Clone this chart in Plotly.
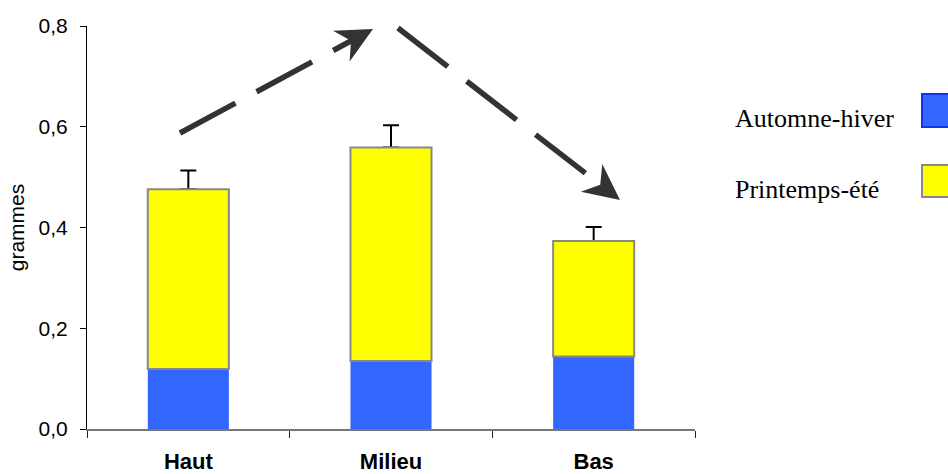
import plotly.graph_objects as go

# Data
sites = ["Haut", "Milieu", "Bas"]
automne_hiver = [0.119, 0.135, 0.144]
printemps_ete = [0.357, 0.424, 0.229]
erreur_totale = [0.037, 0.044, 0.028]
y_ticks = [0.0, 0.2, 0.4, 0.6, 0.8]

totals = [a + p for a, p in zip(automne_hiver, printemps_ete)]

BLUE = "#3366FF"
YELLOW = "#FFFF00"
OUTLINE = "#888888"
ARROW = "#333333"

W, H = 948, 474
PLOT_L, PLOT_R, PLOT_T, PLOT_B = 87, 695, 26, 429


def px(x):
    return (x - PLOT_L) / (PLOT_R - PLOT_L)


def py(y):
    return (PLOT_B - y) / (PLOT_B - PLOT_T)


fig = go.Figure()

# Carrier for the error bars (drawn first so the yellow outline hides the lower cap)
fig.add_trace(go.Bar(
    x=sites, y=totals, width=0.4,
    marker=dict(color="rgba(0,0,0,0)", line=dict(width=0)),
    error_y=dict(type="data", array=erreur_totale, arrayminus=[0] * len(sites),
                 symmetric=False, color="black", thickness=2, width=8),
    showlegend=False, hoverinfo="skip",
))
fig.add_trace(go.Bar(
    x=sites, y=automne_hiver, width=0.4, name="Automne-hiver",
    marker=dict(color=BLUE, line=dict(width=0)),
    showlegend=False,
))
fig.add_trace(go.Bar(
    x=sites, y=printemps_ete, base=automne_hiver, width=0.4, name="Printemps-été",
    marker=dict(color=YELLOW, line=dict(color=OUTLINE, width=2)),
    showlegend=False,
))

shapes = []
annotations = []

# Dashed trend arrows (pixel geometry converted to paper space)
arrows = [((180, 133), (373, 29)), ((398, 28), (620, 200))]
HEAD_LEN, HEAD_HALF, NOTCH = 36, 17.5, 25
for (x0, y0), (x1, y1) in arrows:
    dx, dy = x1 - x0, y1 - y0
    n = (dx * dx + dy * dy) ** 0.5
    ux, uy = dx / n, dy / n
    vx, vy = -uy, ux
    nx, ny = x1 - ux * NOTCH, y1 - uy * NOTCH
    shapes.append(dict(
        type="line", xref="paper", yref="paper",
        x0=px(x0), y0=py(y0), x1=px(nx + ux * 4), y1=py(ny + uy * 4),
        line=dict(color=ARROW, width=5.5, dash="63px,24px"),
    ))
    bx, by = x1 - ux * HEAD_LEN, y1 - uy * HEAD_LEN
    pts = [
        (x1, y1),
        (bx + vx * HEAD_HALF, by + vy * HEAD_HALF),
        (nx, ny),
        (bx - vx * HEAD_HALF, by - vy * HEAD_HALF),
    ]
    path = "M " + " L ".join(f"{px(a):.5f},{py(b):.5f}" for a, b in pts) + " Z"
    shapes.append(dict(type="path", xref="paper", yref="paper", path=path,
                       fillcolor=ARROW, line=dict(width=0)))

# Legend: label followed by its swatch
legend_items = [("Automne-hiver", BLUE, "#1133EE", 119, 94, 127),
                ("Printemps-été", YELLOW, OUTLINE, 189, 165, 197)]
for label, fill, edge, ty, by0, by1 in legend_items:
    annotations.append(dict(
        text=label, xref="paper", yref="paper", x=px(733), y=py(ty),
        xanchor="left", yanchor="middle", showarrow=False,
        font=dict(family="Liberation Serif, Times New Roman, serif", size=26, color="black"),
    ))
    shapes.append(dict(
        type="rect", xref="paper", yref="paper",
        x0=px(922), x1=px(962), y0=py(by1), y1=py(by0),
        fillcolor=fill, line=dict(color=edge, width=2),
    ))

fig.update_layout(
    width=W, height=H, autosize=False,
    margin=dict(l=PLOT_L, r=W - PLOT_R, t=PLOT_T, b=H - PLOT_B, pad=0, autoexpand=False),
    barmode="overlay",
    paper_bgcolor="white", plot_bgcolor="white",
    separators=", ",
    shapes=shapes, annotations=annotations,
    font=dict(family="Liberation Sans, Arial, sans-serif", color="black"),
)

fig.update_xaxes(
    type="category", range=[-0.5, 2.5], automargin=False,
    showline=True, linecolor="#777777", linewidth=1.5,
    ticks="outside", tickson="boundaries", ticklen=7, tickcolor="#222222",
    showgrid=False, zeroline=False,
    tickfont=dict(family="Liberation Sans, Arial, sans-serif",
                  size=22, color="black", weight="bold"),
    ticklabelstandoff=12,
)
fig.update_yaxes(
    range=[0, 0.8], tickvals=y_ticks, tickformat=".1f", automargin=False,
    showline=True, linecolor="black", linewidth=1,
    ticks="outside", ticklen=6, tickcolor="black",
    showgrid=False, zeroline=False,
    tickfont=dict(family="Liberation Sans, Arial, sans-serif", size=21, color="black"),
    ticklabelstandoff=8,
    title=dict(text="grammes", standoff=8,
               font=dict(family="Liberation Sans, Arial, sans-serif", size=21, color="black")),
)

fig.write_html("out.html")
